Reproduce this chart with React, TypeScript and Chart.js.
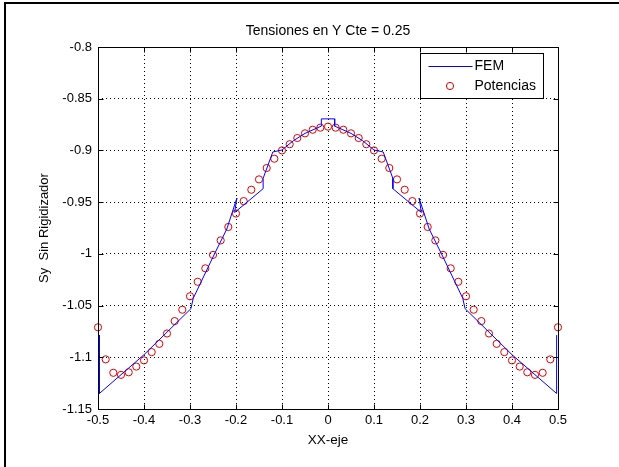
import React, { useEffect, useRef } from "react";
import { Chart, registerables } from "chart.js";

Chart.register(...registerables);

const TITLE = "Tensiones en Y Cte = 0.25";
const X_LABEL = "XX-eje";
const Y_LABEL = "Sy  Sin Rigidizador";

const X_TICKS = [-0.5, -0.4, -0.3, -0.2, -0.1, 0, 0.1, 0.2, 0.3, 0.4, 0.5];
const X_TICK_LABELS = ["-0.5", "-0.4", "-0.3", "-0.2", "-0.1", "0", "0.1", "0.2", "0.3", "0.4", "0.5"];
const Y_TICKS = [-0.8, -0.85, -0.9, -0.95, -1, -1.05, -1.1, -1.15];
const Y_TICK_LABELS = ["-0.8", "-0.85", "-0.9", "-0.95", "-1", "-1.05", "-1.1", "-1.15"];

const FEM_LABEL = "FEM";
const FEM_X = [-0.497, -0.497, -0.4, -0.298, -0.293, -0.25, -0.22, -0.198, -0.203, -0.141, -0.141, -0.12, -0.1, -0.075, -0.05, -0.0145, -0.0145, 0.0145, 0.0145, 0.05, 0.075, 0.1, 0.12, 0.141, 0.141, 0.203, 0.198, 0.22, 0.25, 0.293, 0.298, 0.4, 0.497, 0.497];
const FEM_Y = [-1.0785, -1.135, -1.0975, -1.053, -1.043, -1.003, -0.976, -0.946, -0.96, -0.937, -0.927, -0.9015, -0.8996, -0.8905, -0.8835, -0.8765, -0.8695, -0.8695, -0.8765, -0.8835, -0.8905, -0.8996, -0.9015, -0.927, -0.937, -0.96, -0.946, -0.976, -1.003, -1.043, -1.053, -1.0975, -1.135, -1.0785];

const POT_LABEL = "Potencias";
const POT_X = [-0.5, -0.4833, -0.4667, -0.45, -0.4333, -0.4167, -0.4, -0.3833, -0.3667, -0.35, -0.3333, -0.3167, -0.3, -0.2833, -0.2667, -0.25, -0.2333, -0.2167, -0.2, -0.1833, -0.1667, -0.15, -0.1333, -0.1167, -0.1, -0.0833, -0.0667, -0.05, -0.0333, -0.0167, 0, 0.0167, 0.0333, 0.05, 0.0667, 0.0833, 0.1, 0.1167, 0.1333, 0.15, 0.1667, 0.1833, 0.2, 0.2167, 0.2333, 0.25, 0.2667, 0.2833, 0.3, 0.3167, 0.3333, 0.35, 0.3667, 0.3833, 0.4, 0.4167, 0.4333, 0.45, 0.4667, 0.4833, 0.5];
const POT_Y = [-1.071, -1.102, -1.115, -1.117, -1.1145, -1.109, -1.103, -1.095, -1.087, -1.077, -1.065, -1.054, -1.041, -1.027, -1.014, -1.001, -0.987, -0.974, -0.961, -0.949, -0.938, -0.928, -0.917, -0.908, -0.9, -0.894, -0.888, -0.8835, -0.88, -0.878, -0.877, -0.878, -0.88, -0.8835, -0.888, -0.894, -0.9, -0.908, -0.917, -0.928, -0.938, -0.949, -0.961, -0.974, -0.987, -1.001, -1.014, -1.027, -1.041, -1.054, -1.065, -1.077, -1.087, -1.095, -1.103, -1.109, -1.1145, -1.117, -1.115, -1.102, -1.071];

const FONT = "'Liberation Sans', Arial, Helvetica, sans-serif";
const FEM_COLOR = "#0000ff";
const POT_COLOR = "#e00000";

const framePlugin = {
  id: "matlabFrame",
  afterDraw(chart: any) {
    const { ctx, chartArea, scales } = chart;
    const { left, right, top, bottom } = chartArea;
    const tick = 5;
    ctx.save();
    ctx.strokeStyle = "#000";
    ctx.lineWidth = 1;
    ctx.beginPath();
    X_TICKS.forEach((v) => {
      const px = Math.round(scales.x.getPixelForValue(v)) + 0.5;
      ctx.moveTo(px, bottom + 0.5);
      ctx.lineTo(px, bottom + 0.5 - tick);
      ctx.moveTo(px, top + 0.5);
      ctx.lineTo(px, top + 0.5 + tick);
    });
    Y_TICKS.forEach((v) => {
      const py = Math.round(scales.y.getPixelForValue(v)) + 0.5;
      ctx.moveTo(left + 0.5, py);
      ctx.lineTo(left + 0.5 + tick, py);
      ctx.moveTo(right + 0.5, py);
      ctx.lineTo(right + 0.5 - tick, py);
    });
    ctx.stroke();
    ctx.strokeRect(left + 0.5, top + 0.5, right - left, bottom - top);

    // legend box
    const ds = chart.data.datasets;
    const bw = 123;
    const bh = 45;
    const bx = Math.round(right - 15 - bw) + 0.5;
    const by = Math.round(top + 6) + 0.5;
    ctx.fillStyle = "#fff";
    ctx.fillRect(bx, by, bw, bh);
    ctx.strokeStyle = "#000";
    ctx.strokeRect(bx, by, bw, bh);
    ctx.font = "14px " + FONT;
    ctx.textBaseline = "middle";
    ctx.textAlign = "left";
    // FEM row
    const r1 = by + 12.5;
    ctx.strokeStyle = ds[0].borderColor;
    ctx.lineWidth = 1;
    ctx.beginPath();
    ctx.moveTo(bx + 8, Math.round(r1) + 0.5);
    ctx.lineTo(bx + 52, Math.round(r1) + 0.5);
    ctx.stroke();
    ctx.fillStyle = "#000";
    ctx.fillText(ds[0].label, bx + 54, r1);
    // Potencias row
    const r2 = by + 32.5;
    ctx.strokeStyle = ds[1].borderColor;
    ctx.beginPath();
    ctx.arc(bx + 29.5, r2, 3.6, 0, Math.PI * 2);
    ctx.stroke();
    ctx.fillStyle = "#000";
    ctx.fillText(ds[1].label, bx + 54, r2);
    ctx.restore();
  },
};

export default function App() {
  const ref = useRef<HTMLCanvasElement>(null);

  useEffect(() => {
    const canvas = ref.current;
    if (!canvas) return;
    const chart = new Chart(canvas, {
      type: "scatter",
      data: {
        datasets: [
          {
            label: FEM_LABEL,
            data: FEM_X.map((x, i) => ({ x, y: FEM_Y[i] })),
            showLine: true,
            borderColor: FEM_COLOR,
            backgroundColor: FEM_COLOR,
            borderWidth: 1,
            pointRadius: 0,
            tension: 0,
            clip: false,
          },
          {
            label: POT_LABEL,
            data: POT_X.map((x, i) => ({ x, y: POT_Y[i] })),
            showLine: false,
            borderColor: POT_COLOR,
            backgroundColor: "rgba(0,0,0,0)",
            borderWidth: 1,
            pointRadius: 3.6,
            pointStyle: "circle",
            clip: false,
          },
        ],
      } as any,
      plugins: [framePlugin],
      options: {
        animation: false,
        responsive: false,
        events: [],
        layout: { padding: { left: 0, right: 61, top: 0, bottom: 0 } },
        plugins: {
          legend: { display: false },
          tooltip: { enabled: false },
          title: {
            display: true,
            text: TITLE,
            fullSize: false,
            color: "#000",
            font: { family: FONT, size: 14, weight: "normal" },
            padding: { top: 22.6, bottom: 7.6 },
          },
        },
        scales: {
          x: {
            type: "linear",
            position: "bottom",
            min: -0.5,
            max: 0.5,
            afterBuildTicks: (scale: any) => {
              scale.ticks = X_TICKS.map((v) => ({ value: v }));
            },
            afterFit: (scale: any) => {
              scale.height = 58;
            },
            ticks: {
              autoSkip: false,
              maxRotation: 0,
              padding: 4,
              color: "#000",
              font: { family: FONT, size: 13 },
              callback: (_v: any, i: number) => X_TICK_LABELS[i],
            },
            grid: { color: "#000", lineWidth: 1, drawTicks: false },
            border: { display: false, dash: [1, 3] },
            title: {
              display: true,
              text: X_LABEL,
              color: "#000",
              font: { family: FONT, size: 13.5 },
              padding: { top: 0, bottom: 18.9 },
            },
          },
          y: {
            type: "linear",
            position: "left",
            min: -1.15,
            max: -0.8,
            afterBuildTicks: (scale: any) => {
              scale.ticks = Y_TICKS.map((v) => ({ value: v }));
            },
            afterFit: (scale: any) => {
              scale.width = 98;
            },
            ticks: {
              autoSkip: false,
              padding: 6,
              color: "#000",
              font: { family: FONT, size: 13 },
              callback: (_v: any, i: number) => Y_TICK_LABELS[i],
            },
            grid: { color: "#000", lineWidth: 1, drawTicks: false },
            border: { display: false, dash: [1, 3] },
            title: {
              display: true,
              text: Y_LABEL,
              color: "#000",
              font: { family: FONT, size: 13 },
              padding: { top: 37, bottom: 0 },
            },
          },
        },
      } as any,
    });
    return () => chart.destroy();
  }, []);

  return (
    <div
      style={{
        position: "fixed",
        left: 0,
        top: 0,
        width: 619,
        height: 467,
        overflow: "hidden",
        background: "#fff",
      }}
    >
      <canvas ref={ref} width={619} height={467} style={{ position: "absolute", left: 0, top: 0 }} />
      <div
        style={{
          position: "absolute",
          left: 4,
          top: 2,
          width: 700,
          height: 600,
          borderLeft: "2px solid #000",
          borderTop: "2px solid #000",
          pointerEvents: "none",
        }}
      />
    </div>
  );
}
